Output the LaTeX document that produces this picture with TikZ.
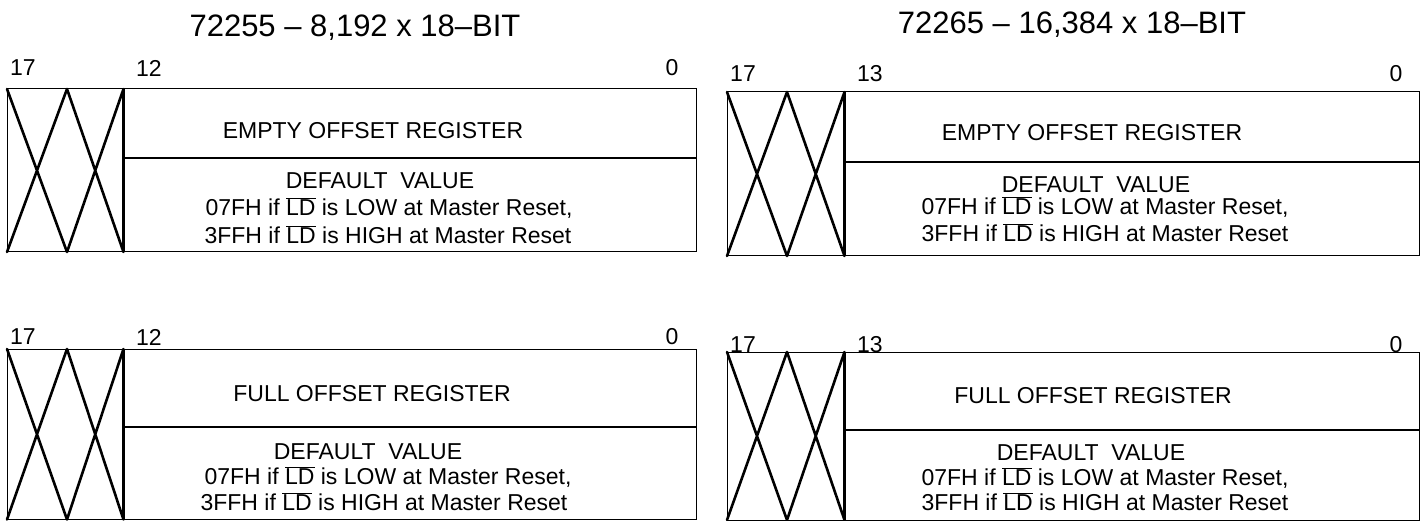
\documentclass[tikz,border=0pt]{standalone}
\usepackage{fontspec}
\setmainfont{Liberation Sans}
\newcommand\ovl[1]{$\overline{\hbox{#1}}$}
\tikzset{
  frame/.style={draw=black, line width=1pt},
  xline/.style={draw=black, line width=2.6pt, line cap=round},
  divline/.style={draw=black, line width=2.2pt},
  bitlbl/.style={inner sep=0pt, font=\fontsize{23}{27}\selectfont},
  txt/.style={inner sep=0pt, font=\fontsize{23}{27}\selectfont},
  ttl/.style={inner sep=0pt, font=\fontsize{31}{35}\selectfont}
}
\newcommand\regpanel[7]{%
  % #1 x0, #2 c1, #3 c2, #4 x1, #5 ytop, #6 ydiv, #7 ybot
  \draw[frame] (#1,#5) rectangle (#4,#7);
  \draw[xline] (#1,#5) -- (#2,#7) (#2,#5) -- (#1,#7)
               (#2,#5) -- (#3,#7) (#3,#5) -- (#2,#7);
  \draw[xline, line cap=butt] (#3,#5) -- (#3,#7);
  \draw[divline] (#3,#6) -- (#4,#6);
}
\begin{document}
\begin{tikzpicture}[x=1pt,y=-1pt]
\useasboundingbox (0,0) rectangle (1424,521);
% panels
\regpanel{7}{67}{123.5}{696}{89}{158}{252}
\regpanel{727}{787}{844.5}{1419}{92}{162}{256}
\regpanel{7}{67}{123.5}{696}{349}{427}{519.5}
\regpanel{727}{787}{844.5}{1419}{352}{430}{520}
% titles
\node[ttl] (t1) at (355,28) {72255 -- 8,192 x 18--BIT};
\node[ttl] (t2) at (1072,25) {72265 -- 16,384 x 18--BIT};
% bit labels
\node[bitlbl] (a17) at (23,68) {17};
\node[bitlbl, anchor=west] (a12) at (136,68) {12};
\node[bitlbl] (a0) at (672,68) {0};
\node[bitlbl] (b17) at (743,74) {17};
\node[bitlbl, anchor=west] (b13) at (857,74) {13};
\node[bitlbl] (b0) at (1396,74) {0};
\node[bitlbl] (c17) at (23,337) {17};
\node[bitlbl, anchor=west] (c12) at (136,337) {12};
\node[bitlbl] (c0) at (672,337) {0};
\node[bitlbl] (d17) at (743,345) {17};
\node[bitlbl, anchor=west] (d13) at (857,345) {13};
\node[bitlbl] (d0) at (1396,345) {0};
% top left texts
\node[txt] (ae) at (373,130.5) {EMPTY OFFSET REGISTER};
\node[txt] (ad) at (380,181) {DEFAULT\ \ VALUE};
\node[txt] (al1) at (389,208) {07FH if \ovl{LD} is LOW at Master Reset,};
\node[txt] (al2) at (388,235) {3FFH if \ovl{LD} is HIGH at Master Reset};
% top right texts
\node[txt] (be) at (1092,133) {EMPTY OFFSET REGISTER};
\node[txt] (bd) at (1096,185) {DEFAULT\ \ VALUE};
\node[txt] (bl1) at (1105,207) {07FH if \ovl{LD} is LOW at Master Reset,};
\node[txt] (bl2) at (1105,233) {3FFH if \ovl{LD} is HIGH at Master Reset};
% bottom left texts
\node[txt] (ce) at (372,394) {FULL OFFSET REGISTER};
\node[txt] (cd) at (368,452) {DEFAULT\ \ VALUE};
\node[txt] (cl1) at (388,477) {07FH if \ovl{LD} is LOW at Master Reset,};
\node[txt] (cl2) at (384,502) {3FFH if \ovl{LD} is HIGH at Master Reset};
% bottom right texts
\node[txt] (de) at (1093,396) {FULL OFFSET REGISTER};
\node[txt] (dd) at (1091,453) {DEFAULT\ \ VALUE};
\node[txt] (dl1) at (1105,478) {07FH if \ovl{LD} is LOW at Master Reset,};
\node[txt] (dl2) at (1105,502) {3FFH if \ovl{LD} is HIGH at Master Reset};
\end{tikzpicture}
\end{document}
